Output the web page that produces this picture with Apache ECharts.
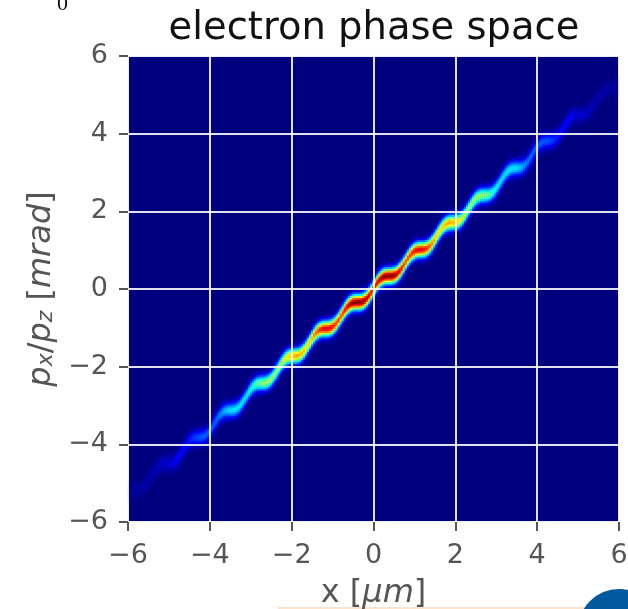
<!DOCTYPE html>
<html><head><meta charset="utf-8">
<style>html,body{margin:0;padding:0;background:#fff}#c{width:628px;height:609px}</style>
<script src="https://cdn.jsdelivr.net/npm/echarts@6/dist/echarts.min.js"></script>
</head><body><div id="c"></div>
<script>
// Ridge for x = 0, 0.05, 0.10 ... 6 (the picture is point-symmetric about 0,0)
const ridgeCentre = [0,.086,.165,.232,.282,.315,.333,.339,.340,.341,.352,.375,.415,.472,.544,.626,.713,.797,.872,.932,.976,1.005,1.018,1.022,1.025,1.031,1.047,1.078,1.126,1.191,1.269,1.356,1.443,1.526,1.597,1.652,1.691,1.714,1.723,1.727,1.729,1.738,1.759,1.797,1.852,1.922,2.005,2.092,2.179,2.258,2.323,2.372,2.404,2.422,2.427,2.430,2.434,2.448,2.474,2.519,2.580,2.656,2.741,2.830,2.913,2.988,3.047,3.090,3.115,3.128,3.131,3.133,3.140,3.158,3.192,3.243,3.311,3.390,3.478,3.566,3.646,3.716,3.768,3.804,3.823,3.832,3.834,3.837,3.848,3.873,3.912,3.971,4.043,4.127,4.215,4.301,4.377,4.441,4.486,4.516,4.500,4.506,4.507,4.513,4.528,4.559,4.605,4.670,4.747,4.834,4.921,5.005,5.056,5.114,5.152,5.176,5.185,5.188,5.191,5.199,5.220];
const ridgePeak = [.88,.89,.91,.94,.97,.99,1,1,1,1,.99,.97,.94,.91,.88,.84,.82,.83,.84,.86,.88,.90,.90,.90,.90,.88,.85,.82,.79,.75,.72,.69,.68,.68,.69,.70,.71,.72,.72,.71,.70,.68,.65,.62,.59,.57,.55,.54,.53,.53,.54,.54,.54,.53,.52,.51,.49,.47,.44,.42,.40,.38,.37,.36,.36,.36,.36,.36,.36,.355,.35,.34,.32,.30,.28,.26,.25,.24,.23,.23,.225,.225,.22,.22,.215,.21,.205,.195,.185,.17,.16,.15,.14,.135,.13,.13,.125,.12,.10,.09,.085,.08,.08,.075,.07,.07,.065,.06,.055,.05,.045,.04,.04,.04,.035,.035,.03,.03,.03,.025,.025];
// Vertical cross-section of the ridge, relative to its peak, every 0.05 away from the centre
const crossSection = [1,.93,.76,.54,.33,.18,.08,.03,.01,0];
const jet = ['#00007f','#0000ff','#007fff','#00ffff','#7fff7f','#ffff00','#ff7f00','#ff0000','#7f0000'];

const STEP = 0.05, N = 241;
const bins = Array.from({length:N},(_,i)=>(-6+i*STEP).toFixed(2));
const cells = [];
function profile(d){
  const t = d/STEP, k = Math.floor(t);
  if (k >= crossSection.length-1) return 0;
  return crossSection[k]+(crossSection[k+1]-crossSection[k])*(t-k);
}
for (let i=0;i<N;i++){
  const n = i-120, a = Math.abs(n), s = n<0?-1:1;
  const c = s*ridgeCentre[a], p = ridgePeak[a];
  for (let j=0;j<N;j++){
    const v = p*profile(Math.abs(-6+j*STEP-c));
    if (v>0.004) cells.push([i,j,+v.toFixed(3)]);
  }
}
const grey='#555555', font='DejaVu Sans';
function valueAxis(extra){return Object.assign({type:'value',min:-6,max:6,interval:2,z:5,
  axisLine:{show:false,onZero:false},axisTick:{show:true,length:9,lineStyle:{color:grey,width:2}},
  axisLabel:{color:grey,fontFamily:font,fontSize:27,margin:20,formatter:v=>String(v).replace('-','\u2212')},
  splitLine:{show:true,lineStyle:{color:'#ffffff',width:2,opacity:.88}},
  nameLocation:'middle'},extra);}
const base={color:grey,fontFamily:font,fontSize:32};
const it={color:grey,fontFamily:font,fontSize:32,fontStyle:'italic'};
const sub={color:grey,fontFamily:font,fontSize:22,fontStyle:'italic',verticalAlign:'bottom'};
const chart=echarts.init(document.getElementById('c'),null,{renderer:'canvas'});
chart.setOption({
  animation:false,
  backgroundColor:'#fff',
  title:{text:'electron phase space',left:369,textAlign:'center',top:4,
    textStyle:{color:'#111',fontFamily:font,fontSize:38.5,fontWeight:'normal'}},
  grid:{left:128,top:56,width:491,height:466,show:true,backgroundColor:'#00007f',borderColor:'#c9c9ee',borderWidth:1,outerBoundsMode:'none'},
  xAxis:[valueAxis({name:'{n|x [}{i|\u03bcm}{n|]}',nameGap:56,nameTextStyle:{rich:{n:base,i:it}}}),
    {type:'category',data:bins,show:false}],
  yAxis:[valueAxis({name:'{i|p}{s|x}{n|/}{i|p}{s|z}{n| [}{i|mrad}{n|]}',nameGap:69,nameRotate:90,nameTextStyle:{rich:{n:base,i:it,s:sub}}}),
    {type:'category',data:bins,show:false}],
  visualMap:{show:false,type:'continuous',min:0,max:1,dimension:2,seriesIndex:0,inRange:{color:jet}},
  series:[{type:'heatmap',xAxisIndex:1,yAxisIndex:1,data:cells,progressive:0,silent:true,emphasis:{disabled:true}}],
  graphic:[
    {type:'text',left:57,top:-7,style:{text:'0',font:'22px "Liberation Serif"',fill:'#111'}},
    {type:'rect',shape:{x:278,y:607,width:310,height:2},style:{fill:'#fde3cb'}},
    {type:'circle',shape:{cx:619,cy:630,r:41},style:{fill:'#005a9e'}}
  ]
});
</script></body></html>
